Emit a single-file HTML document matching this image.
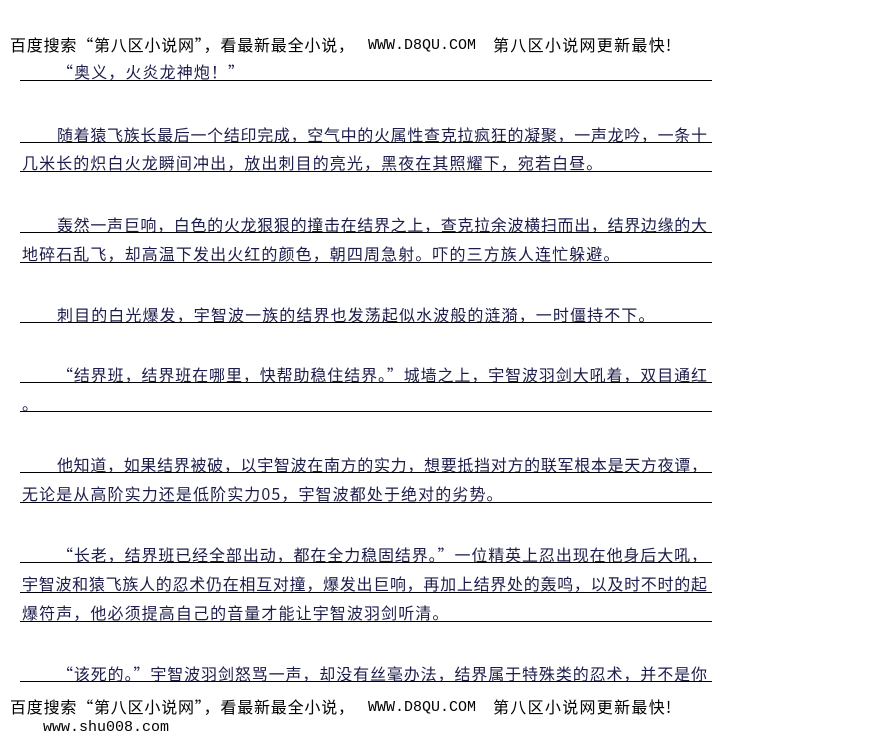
<!DOCTYPE html>
<html><head><meta charset="utf-8"><style>
html,body{margin:0;padding:0;background:#fff;}
body{width:876px;height:746px;position:relative;overflow:hidden;font-family:"Noto Sans CJK SC","WenQuanYi Zen Hei",sans-serif;}
.h{position:absolute;font-size:16px;color:#000;white-space:nowrap;line-height:20px;letter-spacing:0.8px;}
.m{position:absolute;font-family:"Liberation Mono",monospace;font-size:15px;color:#000;white-space:nowrap;line-height:20px;}
.t{position:absolute;font-size:16px;color:#1c1c4a;white-space:nowrap;line-height:20px;letter-spacing:1.1px;}
.f{text-align:justify;text-align-last:justify;white-space:normal;letter-spacing:0;}
.u{position:absolute;left:20px;width:692px;height:1px;background:#000;}
</style></head><body>
<div class="h" style="left:10px;top:34px">百度搜索“第八区小说网”，看最新最全小说，</div>
<div class="m" style="left:368px;top:36px">WWW.D8QU.COM</div>
<div class="h" style="left:493px;top:34px;letter-spacing:1.3px">第八区小说网更新最快!</div>

<div class="t" style="left:57px;top:61px">“奥义，火炎龙神炮！”</div><div class="u" style="top:80px"></div>

<div class="t f" style="left:57px;top:124px;width:650px">随着猿飞族长最后一个结印完成，空气中的火属性查克拉疯狂的凝聚，一声龙吟，一条十</div><div class="u" style="top:142px"></div>
<div class="t" style="left:22px;top:152px">几米长的炽白火龙瞬间冲出，放出刺目的亮光，黑夜在其照耀下，宛若白昼。</div><div class="u" style="top:171px"></div>

<div class="t f" style="left:57px;top:214px;width:650px">轰然一声巨响，白色的火龙狠狠的撞击在结界之上，查克拉余波横扫而出，结界边缘的大</div><div class="u" style="top:232px"></div>
<div class="t" style="left:22px;top:243px">地碎石乱飞，却高温下发出火红的颜色，朝四周急射。吓的三方族人连忙躲避。</div><div class="u" style="top:262px"></div>

<div class="t" style="left:57px;top:304px">刺目的白光爆发，宇智波一族的结界也发荡起似水波般的涟漪，一时僵持不下。</div><div class="u" style="top:322px"></div>

<div class="t f" style="left:57px;top:364px;width:650px">“结界班，结界班在哪里，快帮助稳住结界。”城墙之上，宇智波羽剑大吼着，双目通红</div><div class="u" style="top:382px"></div>
<div class="t" style="left:22px;top:393px">。</div><div class="u" style="top:411px"></div>

<div class="t f" style="left:57px;top:454px;width:650px">他知道，如果结界被破，以宇智波在南方的实力，想要抵挡对方的联军根本是天方夜谭，</div><div class="u" style="top:472px"></div>
<div class="t" style="left:22px;top:483px">无论是从高阶实力还是低阶实力05，宇智波都处于绝对的劣势。</div><div class="u" style="top:502px"></div>

<div class="t f" style="left:57px;top:544px;width:650px">“长老，结界班已经全部出动，都在全力稳固结界。”一位精英上忍出现在他身后大吼，</div><div class="u" style="top:562px"></div>
<div class="t f" style="left:22px;top:573px;width:685px">宇智波和猿飞族人的忍术仍在相互对撞，爆发出巨响，再加上结界处的轰鸣，以及时不时的起</div><div class="u" style="top:592px"></div>
<div class="t" style="left:22px;top:602px">爆符声，他必须提高自己的音量才能让宇智波羽剑听清。</div><div class="u" style="top:621px"></div>

<div class="t f" style="left:57px;top:663px;width:650px">“该死的。”宇智波羽剑怒骂一声，却没有丝毫办法，结界属于特殊类的忍术，并不是你</div><div class="u" style="top:681px"></div>

<div class="h" style="left:10px;top:696px">百度搜索“第八区小说网”，看最新最全小说，</div>
<div class="m" style="left:368px;top:698px">WWW.D8QU.COM</div>
<div class="h" style="left:493px;top:696px;letter-spacing:1.3px">第八区小说网更新最快!</div>
<div class="m" style="left:43px;top:718px">www.shu008.com</div>
</body></html>
